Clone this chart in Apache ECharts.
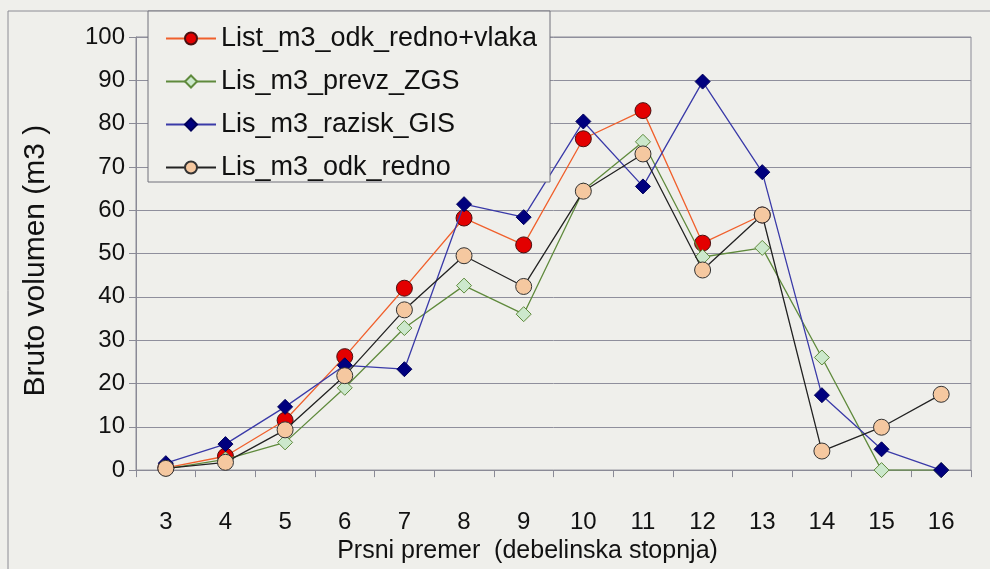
<!DOCTYPE html>
<html>
<head>
<meta charset="utf-8">
<script src="https://cdn.jsdelivr.net/npm/echarts@6/dist/echarts.min.js"></script>
<style>
html,body{margin:0;padding:0;background:#efefeb;}
#chart{width:990px;height:569px;}
</style>
</head>
<body>
<div id="chart"></div>
<script>
const categories = ['3','4','5','6','7','8','9','10','11','12','13','14','15','16'];
const seriesNames = ['List_m3_odk_redno+vlaka','Lis_m3_prevz_ZGS','Lis_m3_razisk_GIS','Lis_m3_odk_redno'];
const redVlaka = [0.5, 3.2, 11.5, 26.2, 42, 58.2, 52, 76.5, 83, 52.4, 58.9, '-', '-', '-'];
const prevzZGS = [0.3, 2.5, 6.4, 19, 32.8, 42.6, 36, 64.6, 75.8, 49.2, 51.3, 26, 0, 0];
const raziskGIS = [1.6, 6, 14.6, 24.2, 23.3, 61.4, 58.4, 80.5, 65.5, 89.7, 68.8, 17.3, 4.8, 0];
const odkRedno = [0.4, 1.8, 9.3, 21.8, 37, 49.5, 42.4, 64.4, 73, 46.2, 58.9, 4.4, 9.9, 17.5];
const yTicks = {min: 0, max: 100, interval: 10};

const chart = echarts.init(document.getElementById('chart'));
const font = 'Liberation Sans, Arial, sans-serif';
chart.setOption({
  backgroundColor: '#efefeb',
  animation: false,
  graphic: [
    {type: 'rect', shape: {x: 8, y: 11, width: 1000, height: 600}, style: {fill: 'none', stroke: '#8c8c94', lineWidth: 1}, z: 0, silent: true},
    {type: 'rect', shape: {x: 148, y: 11, width: 402, height: 171}, style: {fill: '#efefeb', stroke: '#70707a', lineWidth: 1}, z: 50, silent: true}
  ],
  grid: {left: 136, right: 19, top: 37, bottom: 97, show: true, borderColor: '#8a8a96', borderWidth: 1, backgroundColor: 'transparent'},
  legend: {
    orient: 'vertical', left: 160, top: 20, z: 60,
    itemWidth: 50, itemHeight: 15, itemGap: 16,
    textStyle: {fontFamily: font, fontSize: 27, lineHeight: 27, color: '#111', padding: [0,0,0,0]},
    data: seriesNames
  },
  xAxis: {
    type: 'category', data: categories, boundaryGap: true,
    axisLine: {lineStyle: {color: '#8a8a96'}},
    axisTick: {show: true, interval: 0, length: 7, lineStyle: {color: '#8a8a96'}},
    axisLabel: {fontFamily: font, fontSize: 24, color: '#111', margin: 40},
    name: 'Prsni premer  (debelinska stopnja)', nameLocation: 'middle', nameGap: 68,
    nameTextStyle: {fontFamily: font, fontSize: 25, color: '#111', padding: [0, 52, 0, 0]}
  },
  yAxis: {
    type: 'value', min: yTicks.min, max: yTicks.max, interval: yTicks.interval,
    axisLine: {show: true, lineStyle: {color: '#8a8a96'}},
    axisTick: {show: true, length: 7, lineStyle: {color: '#8a8a96'}},
    splitLine: {lineStyle: {color: '#8f8f9c', width: 1}},
    axisLabel: {fontFamily: font, fontSize: 24, color: '#111', margin: 11},
    name: 'Bruto volumen (m3 )', nameLocation: 'middle', nameGap: 85, nameRotate: 90,
    nameTextStyle: {fontFamily: font, fontSize: 30, color: '#111', padding: [0, 14, 0, 0]}
  },
  series: [
    {name: seriesNames[0], type: 'line', data: redVlaka, symbol: 'circle', symbolSize: 16,
     lineStyle: {color: '#f0602c', width: 1.3}, itemStyle: {color: '#e30000', borderColor: '#4a1010', borderWidth: 1}, z: 2},
    {name: seriesNames[1], type: 'line', data: prevzZGS, symbol: 'diamond', symbolSize: 15,
     lineStyle: {color: '#5f8a3c', width: 1.3}, itemStyle: {color: '#cce8cc', borderColor: '#5f8a3c', borderWidth: 1}, z: 3},
    {name: seriesNames[2], type: 'line', data: raziskGIS, symbol: 'diamond', symbolSize: 15,
     lineStyle: {color: '#3a3aa8', width: 1.3}, itemStyle: {color: '#00007e', borderColor: '#00005a', borderWidth: 1}, z: 4},
    {name: seriesNames[3], type: 'line', data: odkRedno, symbol: 'circle', symbolSize: 16,
     lineStyle: {color: '#222222', width: 1.3}, itemStyle: {color: '#f5c8a0', borderColor: '#333333', borderWidth: 1}, z: 5}
  ]
});
</script>
</body>
</html>
